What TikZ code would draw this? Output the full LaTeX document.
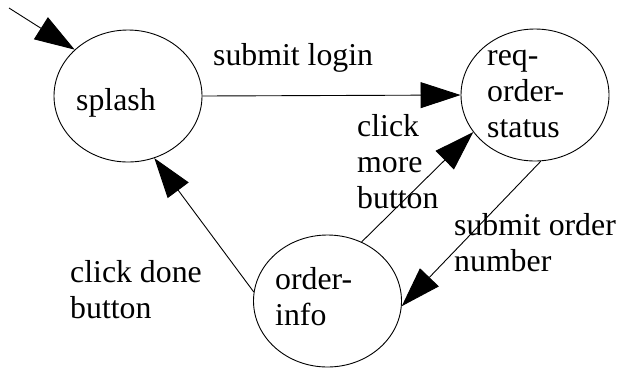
\documentclass[tikz,border=0pt]{standalone}
\usepackage{fontspec}
\setmainfont{Liberation Serif}
\usetikzlibrary{arrows.meta,shapes.geometric}
\begin{document}
\begin{tikzpicture}[x=1pt,y=-1pt,
  state/.style={draw, ellipse, line width=0.9pt, minimum width=148pt,
    minimum height=132pt, inner sep=0pt},
  % multi-line labels are placed by the baseline of their last line
  lbl/.style={inner sep=0pt, anchor=base west, align=left,
    font=\fontsize{31.8}{35.8}\selectfont},
  trans/.style={draw, line width=0.9pt, -{Triangle[length=40pt,width=26pt]}}]
\useasboundingbox (0,0) rectangle (620,368);

% states
\node[state] (splash) at (128,96) {};
\node[state] (req) at (535,95) {};
\node[state] (info) at (327.5,301) {};

% state names
\node[lbl] (splashname) at (76,110) {splash};
\node[lbl] (reqname) at (487,137) {req-\\order-\\status};
\node[lbl] (infoname) at (275,325) {order-\\info};

% transition labels
\node[lbl] (lblogin) at (213,65) {submit login};
\node[lbl] (lbmore) at (357,208) {click\\more\\button};
\node[lbl] (lbnumber) at (454,271) {submit order\\number};
\node[lbl] (lbdone) at (70,318) {click done\\button};

% initial transition
\coordinate (start) at (9,8);
\draw[trans] (start) -- (splash.139.7);

% transitions
\draw[trans] (splash.east) -- (req.west);
\draw[trans] (info.60) -- (req.211.7);
\draw[trans] (req.275.3) -- (info.-4.6);
\draw[trans] (info.173.9) -- (splash.293.4);
\end{tikzpicture}
\end{document}
